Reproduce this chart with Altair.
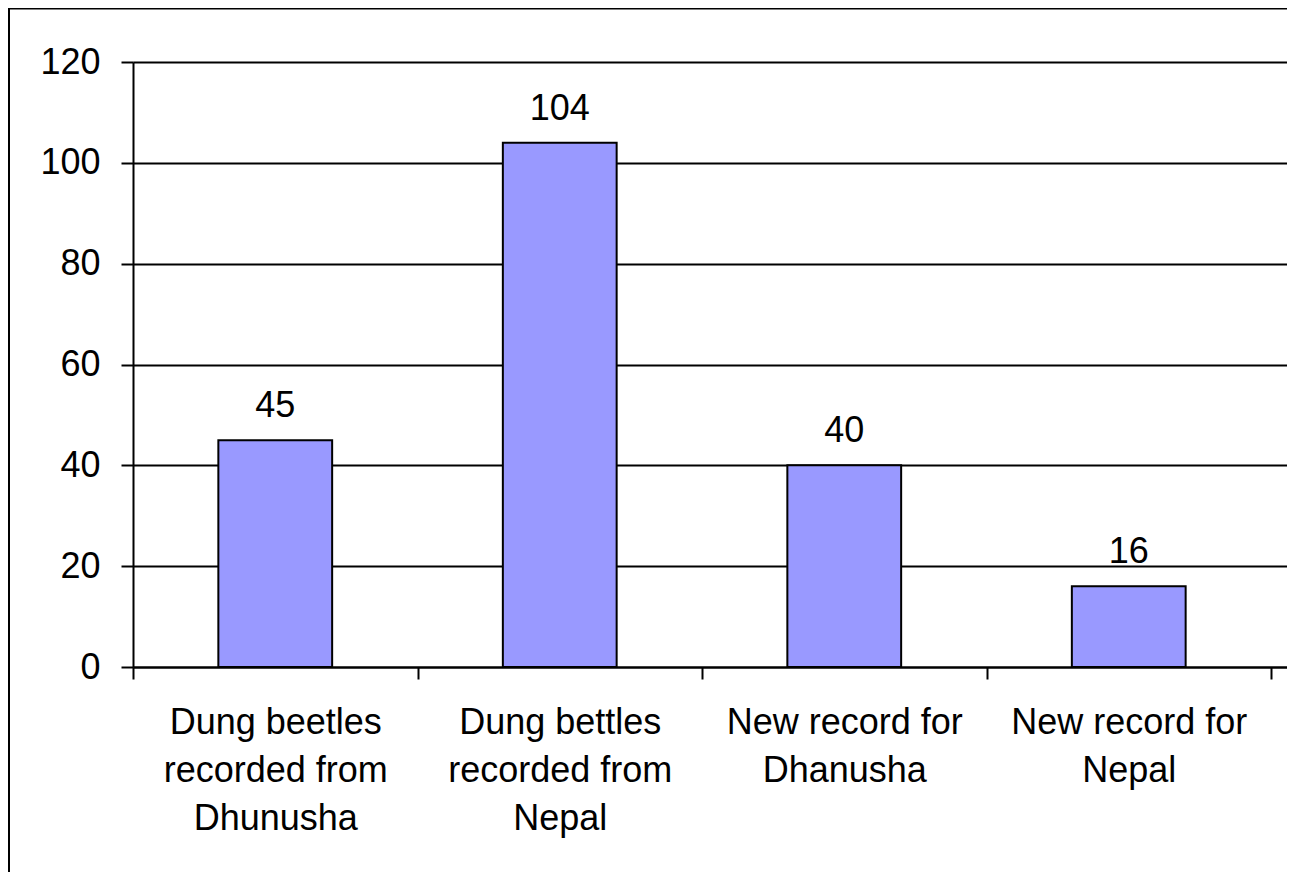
import altair as alt
import pandas as pd

categories = [
    "Dung beetles\nrecorded from\nDhunusha",
    "Dung bettles\nrecorded from\nNepal",
    "New record for\nDhanusha",
    "New record for\nNepal",
]
values = [45, 104, 40, 16]
# fifth category, cut off at the right edge of the reference (no bar visible)
extra_categories = ["New record for"]
y_ticks = [0, 20, 40, 60, 80, 100, 120]

domain = categories + extra_categories
df = pd.DataFrame({"category": categories, "value": values})

FONT = "Liberation Sans, Arial, sans-serif"

x_enc = alt.X(
    "category:N",
    sort=domain,
    scale=alt.Scale(domain=domain, range=[0, 1422.5], paddingInner=0, paddingOuter=0),
    axis=alt.Axis(
        title=None,
        labelAngle=0,
        labelExpr="split(datum.label, '\\n')",
        labelFontSize=36,
        labelLineHeight=48,
        labelFont=FONT,
        labelColor="black",
        labelPadding=26,
        labelBaseline="top",
        labelLimit=0,
        labelOverlap=False,
        tickBand="extent",
        tickSize=12,
        tickColor="black",
        tickWidth=2,
        domainColor="black",
        domainWidth=2,
        grid=False,
    ),
)

y_enc = alt.Y(
    "value:Q",
    scale=alt.Scale(domain=[0, 120], nice=False),
    axis=alt.Axis(
        title=None,
        values=y_ticks,
        labelFontSize=36,
        labelFont=FONT,
        labelColor="black",
        labelPadding=21,
        tickSize=12,
        tickColor="black",
        tickWidth=2,
        domainColor="black",
        domainWidth=2,
        grid=True,
        gridColor="black",
        gridWidth=2,
    ),
)

base = alt.Chart(df)

bars = base.mark_bar(
    fill="#9999FF", stroke="black", strokeWidth=2, width=alt.RelativeBandSize(0.4)
).encode(x=x_enc, y=y_enc)

labels = base.mark_text(
    baseline="alphabetic", dy=-23, fontSize=36, font=FONT, color="black"
).encode(x=alt.X("category:N", sort=domain), y="value:Q", text="value:Q")

frame = alt.Chart(alt.Data(values=[{"f": 1}])).mark_rect(
    fillOpacity=0, stroke="black", strokeWidth=2
).encode(
    x=alt.value(-124), x2=alt.value(3000), y=alt.value(-53.5), y2=alt.value(3000)
)

chart = alt.layer(bars, labels, frame).properties(
    width=1154,
    height=605,
    autosize=alt.AutoSizeParams(type="none"),
    padding={"left": 125, "top": 54, "right": 0, "bottom": 205},
).configure_view(stroke=None).configure(background="white")

chart.save("out.html", embed_options={"renderer": "svg", "actions": False})
